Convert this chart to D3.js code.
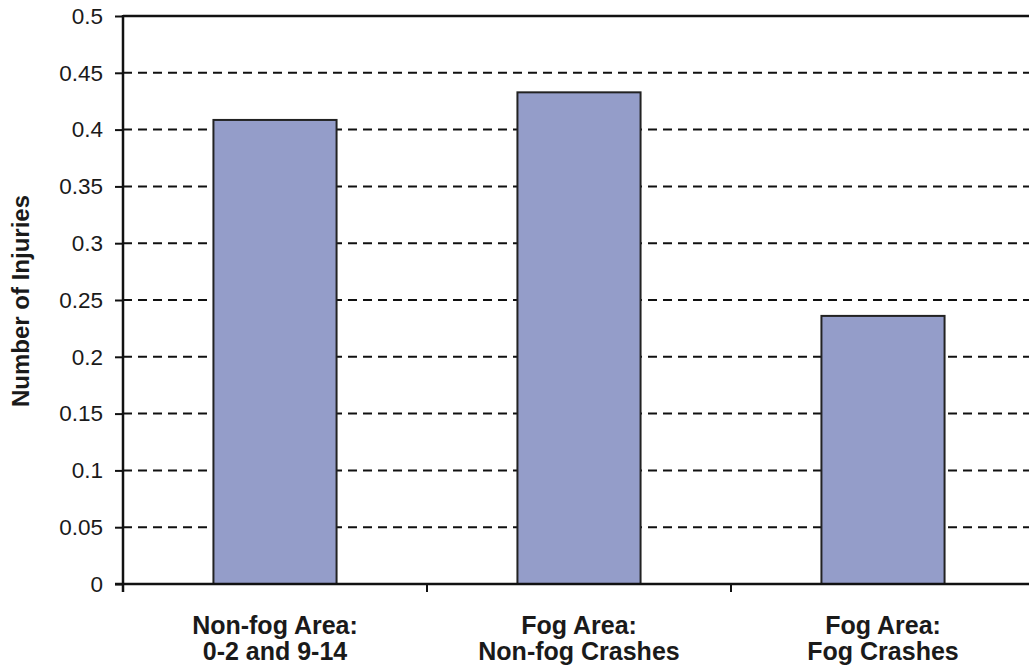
<!DOCTYPE html>
<html>
<head>
<meta charset="utf-8">
<script src="https://cdn.jsdelivr.net/npm/d3@7"></script>
<style>
  html, body { margin: 0; padding: 0; background: #fff; }
  svg { display: block; }
  text { font-family: "Liberation Sans", Arial, sans-serif; fill: #1a1a1a; }
</style>
</head>
<body>
<svg id="chart" width="1029" height="666"></svg>
<script>
const categories = [
  ["Non-fog Area:", "0-2 and 9-14"],
  ["Fog Area:", "Non-fog Crashes"],
  ["Fog Area:", "Fog Crashes"]
];
const values = [0.4085, 0.4328, 0.236];
const yTicks = [0, 0.05, 0.1, 0.15, 0.2, 0.25, 0.3, 0.35, 0.4, 0.45, 0.5];
const yTickLabels = ["0", "0.05", "0.1", "0.15", "0.2", "0.25", "0.3", "0.35", "0.4", "0.45", "0.5"];
const yTitle = "Number of Injuries";

(function () {
const svg = d3.select("#chart");
const pL = 123, pR = 1035, pT = 16, pB = 584;

const x = d3.scaleBand().domain(d3.range(categories.length))
  .range([pL, pR]).paddingInner(0.595).paddingOuter(0.2975);
const y = d3.scaleLinear().domain([0, 0.5]).range([pB, pT]);

// gridlines (dashed)
svg.append("g").selectAll("line")
  .data(yTicks.filter(t => t > 0 && t < 0.5))
  .join("line")
  .attr("x1", pL).attr("x2", 1029)
  .attr("y1", d => y(d)).attr("y2", d => y(d))
  .attr("stroke", "#111").attr("stroke-width", 2)
  .attr("stroke-dasharray", "9,6");

// top border
svg.append("line")
  .attr("x1", pL).attr("x2", 1029)
  .attr("y1", y(0.5)).attr("y2", y(0.5))
  .attr("stroke", "#111").attr("stroke-width", 2.5);

// bars
svg.append("g").selectAll("rect")
  .data(values)
  .join("rect")
  .attr("x", (d, i) => x(i))
  .attr("width", x.bandwidth())
  .attr("y", d => y(d))
  .attr("height", d => y(0) - y(d))
  .attr("fill", "#949dc9")
  .attr("stroke", "#222").attr("stroke-width", 2);

// y axis
const yAxis = d3.axisLeft(y).tickValues(yTicks)
  .tickFormat((d, i) => yTickLabels[i]).tickSize(8).tickPadding(12);
const gy = svg.append("g").attr("transform", `translate(${pL},0)`).call(yAxis);
gy.attr("font-size", null).attr("font-family", null);
gy.select(".domain").remove();
gy.selectAll(".tick line").attr("stroke", "#111").attr("stroke-width", 2);
gy.selectAll(".tick text").attr("fill", "#1a1a1a")
  .style("font-size", "22.5px")
  .style("font-family", "'Liberation Sans', Arial, sans-serif");
svg.append("line").attr("x1", pL).attr("x2", pL)
  .attr("y1", pT - 1).attr("y2", pB + 8)
  .attr("stroke", "#111").attr("stroke-width", 2.5);

// x axis line
svg.append("line").attr("x1", pL - 8).attr("x2", 1029)
  .attr("y1", pB).attr("y2", pB)
  .attr("stroke", "#111").attr("stroke-width", 2.5);

// x category boundary ticks
const bounds = d3.range(1, categories.length + 1).map(i => x(i - 1) + x.bandwidth() / 2 + x.step() / 2);
svg.append("g").selectAll("line").data(bounds).join("line")
  .attr("x1", d => d).attr("x2", d => d)
  .attr("y1", pB).attr("y2", pB + 8)
  .attr("stroke", "#111").attr("stroke-width", 2);

// x labels
const xl = svg.append("g").selectAll("text").data(categories).join("text")
  .attr("text-anchor", "middle")
  .style("font-size", "25px").attr("font-weight", "bold");
xl.each(function (d, i) {
  const t = d3.select(this);
  const cx = x(i) + x.bandwidth() / 2;
  t.append("tspan").attr("x", cx).attr("y", 634).text(d[0]);
  t.append("tspan").attr("x", cx).attr("y", 660).text(d[1]);
});

// y title
svg.append("text")
  .attr("transform", "translate(29,301) rotate(-90)")
  .attr("text-anchor", "middle")
  .style("font-size", "24px").attr("font-weight", "bold")
  .text(yTitle);
})();
</script>
</body>
</html>
